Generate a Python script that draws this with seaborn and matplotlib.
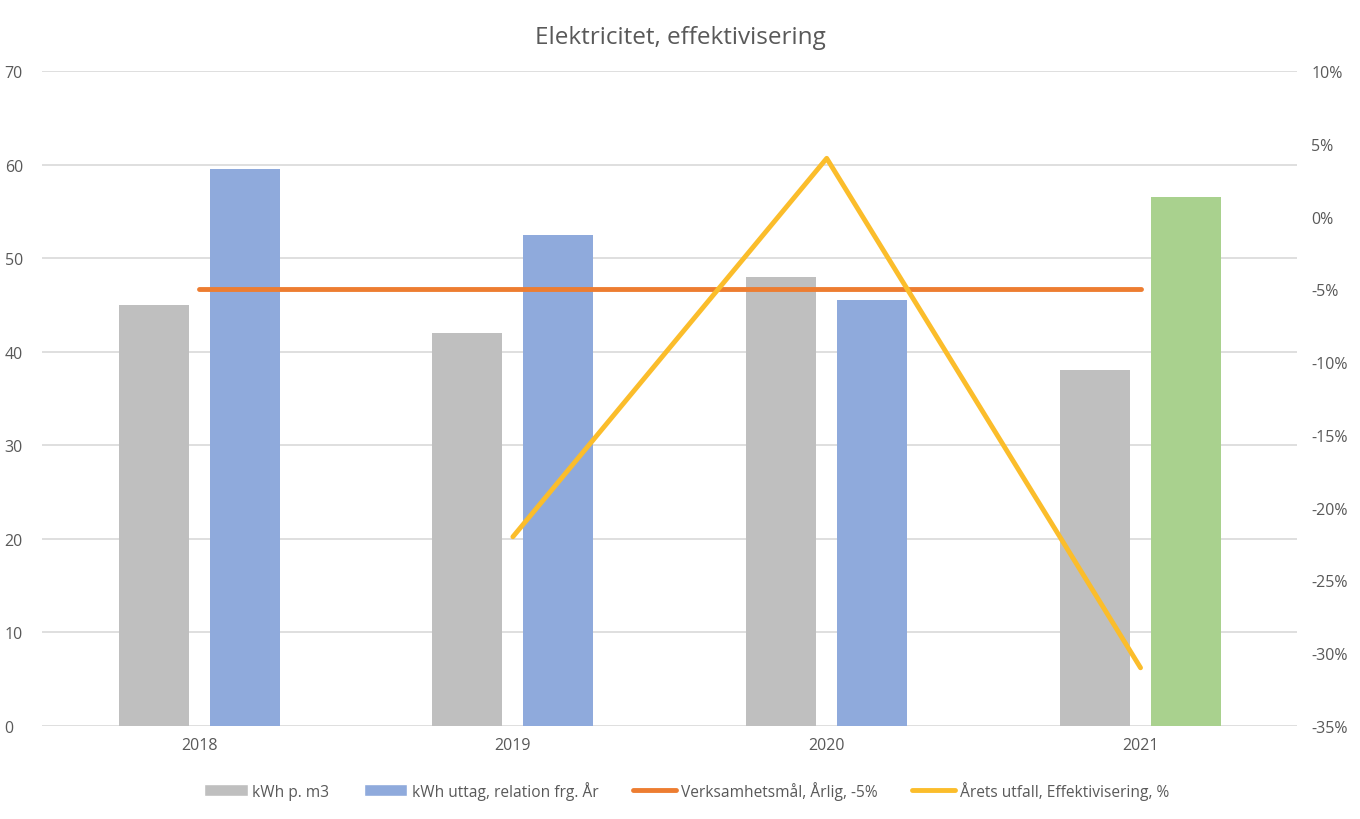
import pandas as pd
import numpy as np
import matplotlib.pyplot as plt
import seaborn as sns
from matplotlib.patches import Patch
from matplotlib.lines import Line2D
from matplotlib.ticker import PercentFormatter

# data
years = ["2018", "2019", "2020", "2021"]
kwh_per_m3 = [45, 42, 48, 38]
kwh_uttag = [59.5, 52.5, 45.5, 56.5]
mal_pct = [-5, -5, -5, -5]
utfall_pct = [np.nan, -22, 4, -31]

bar_labels = ["kWh p. m3", "kWh uttag, relation frg. År"]
line_labels = ["Verksamhetsmål, Årlig, -5%", "Årets utfall, Effektivisering, %"]

c_gray = "#BFBFBF"
c_blue = "#8FAADC"
c_green = "#A9D18E"
c_orange = "#ED7D31"
c_yellow = "#FBBD2B"
txt = "#595959"

sns.set_style("white")
plt.rcParams["font.family"] = ["Open Sans", "DejaVu Sans"]
plt.rcParams["axes.unicode_minus"] = False

df = pd.DataFrame({
    "year": years * 2,
    "value": kwh_per_m3 + kwh_uttag,
    "serie": [bar_labels[0]] * 4 + [bar_labels[1]] * 4,
})

fig = plt.figure(figsize=(13.6, 8.2), dpi=100)
ax = fig.add_axes([0.031, 0.1134, 0.923, 0.7988])

sns.barplot(data=df, x="year", y="value", hue="serie", order=years,
            palette=[c_gray, c_blue], width=0.58, gap=0.23,
            saturation=1, linewidth=0, legend=False, ax=ax)
# the 2021 uttag bar is green in the original
ax.containers[1][3].set_facecolor(c_green)

ax.set_ylim(0, 70)
ax.set_yticks(range(0, 71, 10))
ax.set_xlim(-0.5, 3.5)
ax.set_xlabel("")
ax.set_ylabel("")
ax.grid(axis="y", color="#D9D9D9", linewidth=1.2)
ax.set_axisbelow(True)
for s in ax.spines.values():
    s.set_visible(False)
ax.tick_params(axis="both", length=0, labelsize=11.5, labelcolor=txt)
ax.tick_params(axis="y", pad=27)
ax.tick_params(axis="x", pad=8)
for lbl in ax.get_yticklabels():
    lbl.set_horizontalalignment("left")

ax2 = ax.twinx()
xpos = np.arange(len(years))
sns.lineplot(x=xpos, y=mal_pct, color=c_orange, linewidth=3.5, ax=ax2)
sns.lineplot(x=xpos, y=utfall_pct, color=c_yellow, linewidth=3.5, ax=ax2)
ax2.set_ylim(-35, 10)
ax2.set_yticks(range(-35, 11, 5))
ax2.yaxis.set_major_formatter(PercentFormatter(decimals=0))
ax2.set_ylabel("")
for s in ax2.spines.values():
    s.set_visible(False)
ax2.tick_params(axis="y", length=0, labelsize=11.5, labelcolor=txt, pad=10)
ax2.set_xlim(-0.5, 3.5)

fig.suptitle("Elektricitet, effektivisering", y=0.968, fontsize=17.5, color=txt)

handles = [
    Patch(facecolor=c_gray, label=bar_labels[0]),
    Patch(facecolor=c_blue, label=bar_labels[1]),
    Line2D([], [], color=c_orange, linewidth=3.5, label=line_labels[0]),
    Line2D([], [], color=c_yellow, linewidth=3.5, label=line_labels[1]),
]
fig.legend(handles=handles, loc="center", bbox_to_anchor=(0.505, 0.035),
           ncol=4, frameon=False, fontsize=11.2, labelcolor=txt,
           handlelength=2.8, handleheight=0.8, columnspacing=2.2,
           handletextpad=0.3)

fig.savefig("out.png", dpi=100)
